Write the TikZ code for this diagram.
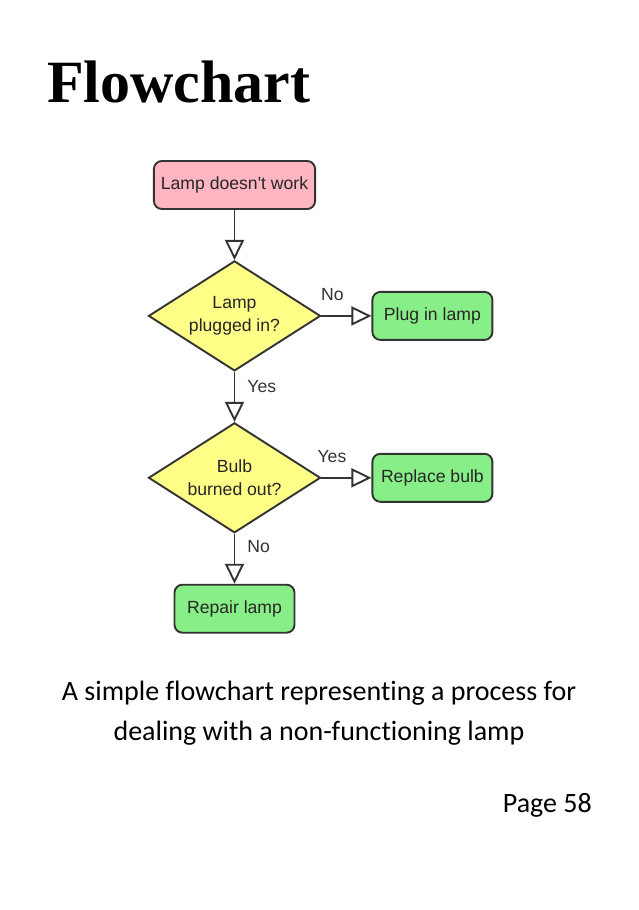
\documentclass[tikz,border=0pt]{standalone}
\usepackage{fontspec}
\setmainfont{Liberation Sans}
\newfontfamily\titlefont{Liberation Serif}
\newfontfamily\capfont[Ligatures=NoCommon]{Carlito}
\usetikzlibrary{positioning,arrows.meta,shapes.geometric}
\definecolor{Rose}{RGB}{255,182,193}
\definecolor{Lemon}{RGB}{255,255,136}
\definecolor{Mint}{RGB}{136,238,136}
\definecolor{Ink}{RGB}{51,51,51}

\begin{document}
\begin{tikzpicture}[x=1pt,y=-1pt,node distance=50pt,
 box/.style={rounded corners=8pt,draw=Ink,line width=1.9pt,minimum width=120pt,minimum height=48pt,inner sep=7pt,font=\fontsize{17.6}{23}\selectfont,text=black!85},
 q/.style={diamond,aspect=1.56,draw=Ink,fill=Lemon,line width=1.9pt,minimum width=172pt,minimum height=110pt,inner sep=0pt,align=center,font=\fontsize{17.6}{23}\selectfont,text=black!85},
 a/.style={-{Triangle[open,length=20pt,width=19pt]},line width=1.9pt,draw=Ink},
 lbl/.style={font=\fontsize{17.6}{20}\selectfont,text=Ink,inner sep=1pt}]
\fill[white] (0,0) rectangle (638,910);
\useasboundingbox (0,0) rectangle (638,910);
\node[anchor=base west,inner sep=0pt] (title) at (47,102) {\titlefont\bfseries\fontsize{60}{60}\selectfont Flowchart};
% flowchart
\node[box,fill=Rose] (start) at (234.5,185) {Lamp doesn\textquotesingle t work};
\node[q,below=of start] (plug) {Lamp\\plugged in?};
\node[box,fill=Mint,right=of plug] (plugin) {Plug in lamp};
\node[q,below=of plug] (bulb) {Bulb\\burned out?};
\node[box,fill=Mint,right=of bulb] (replace) {Replace bulb};
\node[box,fill=Mint,below=of bulb] (repair) {Repair lamp};
\draw[a] (start)--(plug);
\draw[a] (plug)--node[lbl,pos=.22,above=13pt] (no1) {No} (plugin);
\draw[a] (plug)--node[lbl,pos=.29,right=11pt] (yes1) {Yes} (bulb);
\draw[a] (bulb)--node[lbl,pos=.21,above=13pt] (yes2) {Yes} (replace);
\draw[a] (bulb)--node[lbl,pos=.26,right=11pt] (no2) {No} (repair);
% caption
\node[anchor=base,inner sep=0pt] (cap1) at (319,700) {\capfont\fontsize{28}{40}\selectfont A simple flowchart representing a process for};
\node[anchor=base,inner sep=0pt] (cap2) at (319,740) {\capfont\fontsize{28}{40}\selectfont dealing with a non-functioning lamp};
\node[anchor=base east,inner sep=0pt] (page) at (592,812) {\capfont\fontsize{28}{40}\selectfont Page 58};
\end{tikzpicture}
\end{document}
